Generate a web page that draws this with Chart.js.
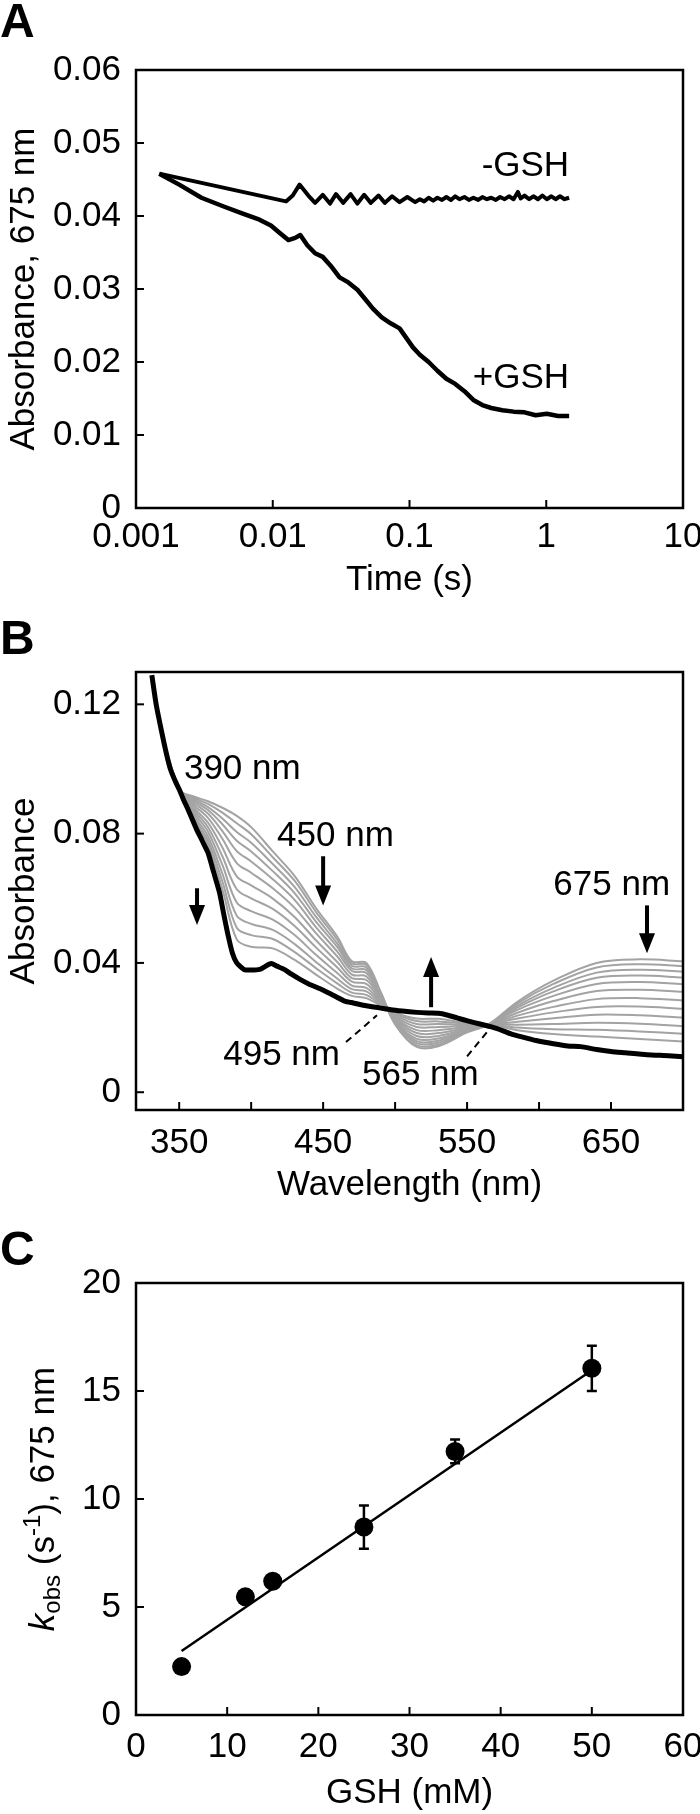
<!DOCTYPE html>
<html><head><meta charset="utf-8">
<script src="https://cdn.jsdelivr.net/npm/chart.js@4.4.1/dist/chart.umd.min.js"></script>
<style>
html,body{margin:0;padding:0;background:#fff;width:700px;height:1814px;overflow:hidden;position:relative;}
canvas{position:absolute;left:0;}
.letter{position:absolute;left:0;font:bold 48px "Liberation Sans",Arial,sans-serif;line-height:48px;color:#000;z-index:2;}
</style></head><body>
<canvas id="cA" style="top:0px" width="700" height="610"></canvas>
<canvas id="cB" style="top:610px" width="700" height="600"></canvas>
<canvas id="cC" style="top:1210px" width="700" height="604"></canvas>
<div class="letter" style="top:-3px">A</div>
<div class="letter" style="top:614px">B</div>
<div class="letter" style="top:1225px">C</div>
<script>
// ---------------- Panel A data ----------------
const A_TIME_MINUS = [0.00148,0.0125,0.0140,0.0157,0.0182,0.0204,0.0232,0.0262,0.0290,0.0327,0.0371,0.0416,0.0466,0.0521,0.0594,0.0660,0.0746,0.0846,0.0964,0.110,0.119,0.128,0.138,0.149,0.160,0.173,0.186,0.201,0.216,0.232,0.252,0.272,0.293,0.318,0.341,0.368,0.396,0.428,0.460,0.496,0.534,0.577,0.620,0.650,0.694,0.75,0.806,0.87,0.936,1.01,1.09,1.17,1.26,1.36,1.47];
const A_ABS_MINUS  = [0.0458,0.0420,0.0428,0.0443,0.0428,0.0418,0.0429,0.0417,0.0430,0.0418,0.0430,0.0417,0.0429,0.0418,0.0428,0.0418,0.0427,0.0419,0.0426,0.0419,0.0423,0.0420,0.0425,0.0421,0.0425,0.0422,0.0426,0.0422,0.0427,0.0423,0.0426,0.0422,0.0425,0.0422,0.0426,0.0423,0.0425,0.0422,0.0426,0.0423,0.0427,0.0423,0.0433,0.0424,0.0428,0.0423,0.0427,0.0423,0.0428,0.0423,0.0427,0.0423,0.0427,0.0423,0.0425];
const A_TIME_PLUS = [0.00148,0.00207,0.00301,0.00438,0.0059,0.0080,0.0097,0.0112,0.0130,0.0146,0.0159,0.0179,0.0204,0.0232,0.0265,0.0308,0.0357,0.0416,0.0475,0.0540,0.0627,0.0728,0.0846,0.0947,0.106,0.119,0.138,0.160,0.186,0.216,0.252,0.293,0.341,0.396,0.478,0.577,0.694,0.836,1.01,1.22,1.47];
const A_ABS_PLUS  = [0.0458,0.0443,0.0425,0.0413,0.0404,0.0395,0.0387,0.0377,0.0367,0.0370,0.0374,0.0360,0.0349,0.0344,0.0332,0.0316,0.0309,0.0299,0.0286,0.0273,0.0261,0.0253,0.0246,0.0233,0.0220,0.0210,0.0200,0.0188,0.0177,0.0170,0.0160,0.0148,0.0141,0.0137,0.0134,0.0132,0.0131,0.0127,0.0129,0.0126,0.0126];
const A_X_TICKS = [0.001,0.01,0.1,1,10];
const A_X_LABELS = ['0.001','0.01','0.1','1','10'];
const A_Y_TICKS = [0,0.01,0.02,0.03,0.04,0.05,0.06];
const A_Y_LABELS = ['0','0.01','0.02','0.03','0.04','0.05','0.06'];
const A_NOTES = [{text:'-GSH',x:1.47,y:0.0468},{text:'+GSH',x:1.47,y:0.0177}];

// ---------------- Panel B data ----------------
const B_WL = [340,350,360,370,380,390,400,415,430,445,460,470,480,490,500,515,530,550,565,585,610,640,670,700];
const B_GREY_1  = [0.107,0.0935,0.0915,0.090,0.088,0.0855,0.082,0.0745,0.067,0.057,0.048,0.0405,0.040,0.031,0.021,0.014,0.0142,0.0185,0.021,0.028,0.0345,0.040,0.0411,0.0405];
const B_GREY_2  = [0.107,0.0935,0.0911,0.0892,0.0865,0.0832,0.0798,0.0727,0.0655,0.0558,0.0471,0.0399,0.0394,0.0308,0.0212,0.0145,0.0147,0.0187,0.021,0.0275,0.0335,0.0386,0.0396,0.039];
const B_GREY_3  = [0.107,0.0935,0.0906,0.0882,0.0847,0.0805,0.0772,0.0706,0.0636,0.0543,0.0459,0.0391,0.0386,0.0305,0.0215,0.0152,0.0153,0.0189,0.021,0.0268,0.0323,0.037,0.0379,0.0373];
const B_GREY_4  = [0.107,0.0935,0.0901,0.0873,0.0829,0.0778,0.0745,0.0684,0.0617,0.0528,0.0448,0.0383,0.0378,0.0302,0.0217,0.0158,0.0159,0.0191,0.021,0.0262,0.0312,0.0354,0.0361,0.0355];
const B_GREY_5  = [0.107,0.0935,0.0895,0.0862,0.0808,0.0746,0.0714,0.0659,0.0596,0.0511,0.0434,0.0375,0.0369,0.0298,0.022,0.0165,0.0166,0.0193,0.021,0.0255,0.0298,0.0335,0.0341,0.0334];
const B_GREY_6  = [0.107,0.0935,0.0888,0.0849,0.0784,0.0709,0.0679,0.0631,0.0571,0.0492,0.0419,0.0364,0.0358,0.0294,0.0224,0.0174,0.0174,0.0196,0.021,0.0246,0.0282,0.0313,0.0317,0.0311];
const B_GREY_7  = [0.107,0.0935,0.088,0.0834,0.0757,0.0668,0.064,0.0599,0.0543,0.047,0.0402,0.0353,0.0347,0.029,0.0228,0.0183,0.0183,0.0199,0.021,0.0237,0.0264,0.0288,0.0291,0.0284];
const B_GREY_8  = [0.107,0.0935,0.0873,0.082,0.073,0.0628,0.060,0.0567,0.0515,0.0448,0.0385,0.0342,0.0335,0.0285,0.0231,0.0192,0.0192,0.0202,0.021,0.0228,0.0247,0.0264,0.0265,0.0258];
const B_GREY_9  = [0.107,0.0935,0.0865,0.0806,0.0703,0.0587,0.056,0.0534,0.0487,0.0425,0.0368,0.033,0.0323,0.0281,0.0235,0.0202,0.0202,0.0206,0.021,0.0218,0.0229,0.024,0.0238,0.0231];
const B_GREY_10 = [0.107,0.0935,0.0857,0.0791,0.0676,0.0546,0.0521,0.0502,0.0459,0.0403,0.0351,0.0319,0.0312,0.0276,0.0239,0.0211,0.0211,0.0209,0.021,0.0209,0.0211,0.0215,0.0212,0.0204];
const B_GREY_11 = [0.107,0.0935,0.085,0.0778,0.0652,0.0509,0.0486,0.0474,0.0434,0.0384,0.0336,0.0308,0.0301,0.0272,0.0243,0.022,0.0219,0.0212,0.021,0.020,0.0195,0.0193,0.0188,0.0181];
const B_GREY_12 = [0.107,0.0935,0.0844,0.0766,0.0628,0.0473,0.045,0.0445,0.041,0.0364,0.032,0.0298,0.0291,0.0268,0.0246,0.0228,0.0227,0.0214,0.021,0.0192,0.018,0.0172,0.0165,0.0157];
const B_FINAL_WL  = [331,334,337.6,341,344,347,350,353,356,359,362,366,370,374,378,381,384,387,390,395,400,406,410,414,418,423,428,434,440,449,457,465,471,477,483,489,497,505,515,523,530,536,543,551,559,567,575,582,590,598,610,620,629,640,650,660,675,690,700];
const B_FINAL_ABS = [0.129,0.120,0.112,0.105,0.0998,0.0965,0.0937,0.0905,0.0876,0.0845,0.0814,0.0778,0.0741,0.068,0.0618,0.055,0.0485,0.043,0.040,0.038,0.0378,0.038,0.039,0.0398,0.039,0.038,0.0365,0.0349,0.0335,0.0318,0.030,0.0282,0.0276,0.027,0.0265,0.0261,0.0255,0.0251,0.0247,0.0245,0.0244,0.0239,0.023,0.022,0.0211,0.0202,0.019,0.0178,0.0169,0.016,0.015,0.0143,0.0141,0.0132,0.0126,0.0122,0.0116,0.0113,0.011];
const B_X_TICKS = [350,400,450,500,550,600,650,700];
const B_X_LABELS = ['350','','450','','550','','650',''];
const B_Y_TICKS = [0,0.04,0.08,0.12];
const B_Y_LABELS = ['0','0.04','0.08','0.12'];
const B_TEXTS = [
  {text:'390 nm',x:353.3,y:0.0999,align:'left'},
  {text:'450 nm',x:418,y:0.0792,align:'left'},
  {text:'675 nm',x:691,y:0.064,align:'right'},
  {text:'495 nm',x:461.7,y:0.0114,align:'right'},
  {text:'565 nm',x:477,y:0.0053,align:'left'}
];
const B_ARROWS = [
  {x:362.4,from:0.0631,to:0.0517},
  {x:450,from:0.073,to:0.0578},
  {x:675,from:0.0578,to:0.043},
  {x:525,from:0.0263,to:0.0418}
];
const B_DASHES = [
  {x1:465.9,y1:0.0155,x2:487.4,y2:0.0238},
  {x1:550,y1:0.0111,x2:563.8,y2:0.0186}
];

// ---------------- Panel C data ----------------
const C_GSH  = [5,12,15,25,35,50];
const C_KOBS = [2.24,5.47,6.19,8.7,12.2,16.05];
const C_ERR  = [0.15,0.3,0.2,1.0,0.55,1.05];
const C_FIT_X = [5,50];
const C_FIT_Y = [2.96,15.96];
const C_X_TICKS = [0,10,20,30,40,50,60];
const C_X_LABELS = ['0','10','20','30','40','50','60'];
const C_Y_TICKS = [0,5,10,15,20];
const C_Y_LABELS = ['0','5','10','15','20'];

// ---------------- common ----------------
const FAMILY = '"Liberation Sans", Arial, sans-serif';
const FS = 35;
const TICK = 8;
Chart.defaults.font.family = FAMILY;
Chart.defaults.color = '#000';

const framePlugin = {
  id:'frame',
  afterDatasetsDraw(chart){
    const {ctx, chartArea:a} = chart;
    ctx.save();
    ctx.strokeStyle = '#000';
    ctx.lineWidth = 2;
    const xs = chart.scales.x, ys = chart.scales.y;
    xs.ticks.forEach(t=>{const p=xs.getPixelForValue(t.value);ctx.beginPath();ctx.moveTo(p,a.bottom);ctx.lineTo(p,a.bottom-TICK);ctx.stroke();});
    ys.ticks.forEach(t=>{const p=ys.getPixelForValue(t.value);ctx.beginPath();ctx.moveTo(a.left,p);ctx.lineTo(a.left+TICK,p);ctx.stroke();});
    ctx.lineWidth = 2.5;
    ctx.strokeRect(a.left,a.top,a.right-a.left,a.bottom-a.top);
    ctx.restore();
  }
};

function xyData(xs, ys){ return xs.map((x,i)=>({x:x, y:ys[i]})); }

function baseOptions(cfg){
  return {
    responsive:false, animation:false, devicePixelRatio:1,
    layout:{padding:{top:cfg.padTop,right:17,left:0,bottom:0}},
    plugins:{legend:{display:false},tooltip:{enabled:false}},
    scales:{
      x:{
        type:cfg.xType, min:cfg.xMin, max:cfg.xMax,
        afterBuildTicks:s=>{s.ticks = cfg.xTicks.map(v=>({value:v}));},
        afterFit:s=>{s.height = cfg.xHeight; s.paddingLeft = 0; s.paddingRight = 0;},
        grid:{display:false,drawTicks:false}, border:{display:false},
        ticks:{font:{size:FS,family:FAMILY},color:'#000',padding:cfg.xLabPad,maxRotation:0,autoSkip:false,
          callback:(v,i)=>cfg.xLabels[i]},
        title:{display:true,text:cfg.xTitle,font:{size:FS,family:FAMILY},color:'#000',padding:{top:0,bottom:cfg.xTitlePad}}
      },
      y:{
        type:'linear', min:cfg.yMin, max:cfg.yMax,
        afterBuildTicks:s=>{s.ticks = cfg.yTicks.map(v=>({value:v}));},
        afterFit:s=>{s.width = 136; s.paddingTop = 0; s.paddingBottom = 0;},
        grid:{display:false,drawTicks:false}, border:{display:false},
        ticks:{font:{size:FS,family:FAMILY},color:'#000',padding:15,autoSkip:false,
          callback:(v,i)=>cfg.yLabels[i]},
        title:{display:!!cfg.yTitle,text:cfg.yTitle||'',font:{size:FS,family:FAMILY},color:'#000',padding:{top:3,bottom:0}}
      }
    }
  };
}

// ---------------- Chart A ----------------
const notesA = {
  id:'notesA',
  afterDatasetsDraw(chart){
    const {ctx} = chart, xs = chart.scales.x, ys = chart.scales.y;
    ctx.save();
    ctx.font = FS+'px '+FAMILY; ctx.fillStyle = '#000';
    ctx.textAlign = 'right'; ctx.textBaseline = 'middle';
    A_NOTES.forEach(n=>ctx.fillText(n.text, xs.getPixelForValue(n.x), ys.getPixelForValue(n.y)));
    ctx.restore();
  }
};
new Chart(document.getElementById('cA'), {
  type:'line',
  data:{datasets:[
    {data:xyData(A_TIME_MINUS,A_ABS_MINUS),borderColor:'#000',borderWidth:4,pointRadius:0,tension:0,borderJoinStyle:'round'},
    {data:xyData(A_TIME_PLUS,A_ABS_PLUS),borderColor:'#000',borderWidth:4.5,pointRadius:0,tension:0,borderJoinStyle:'round'}
  ]},
  options:baseOptions({padTop:70,xType:'logarithmic',xMin:0.001,xMax:10,xTicks:A_X_TICKS,xLabels:A_X_LABELS,
    xHeight:102,xLabPad:8,xTitle:'Time (s)',xTitlePad:9,yMin:0,yMax:0.06,yTicks:A_Y_TICKS,yLabels:A_Y_LABELS,
    yTitle:'Absorbance, 675 nm'}),
  plugins:[framePlugin,notesA]
});

// ---------------- Chart B ----------------
const notesB = {
  id:'notesB',
  afterDatasetsDraw(chart){
    const {ctx} = chart, xs = chart.scales.x, ys = chart.scales.y;
    const px = v=>xs.getPixelForValue(v), py = v=>ys.getPixelForValue(v);
    ctx.save();
    ctx.fillStyle = '#000'; ctx.strokeStyle = '#000';
    ctx.font = FS+'px '+FAMILY; ctx.textBaseline = 'middle';
    B_TEXTS.forEach(t=>{ctx.textAlign = t.align; ctx.fillText(t.text, px(t.x), py(t.y));});
    B_ARROWS.forEach(a=>{
      const x = px(a.x), y1 = py(a.from), y2 = py(a.to);
      const dir = y2 > y1 ? 1 : -1;
      const headL = 20, headW = 8;
      ctx.lineWidth = 4; ctx.lineCap = 'butt';
      ctx.beginPath(); ctx.moveTo(x,y1); ctx.lineTo(x,y2-dir*headL+dir*2); ctx.stroke();
      ctx.beginPath(); ctx.moveTo(x,y2); ctx.lineTo(x-headW,y2-dir*headL); ctx.lineTo(x+headW,y2-dir*headL); ctx.closePath(); ctx.fill();
    });
    ctx.lineWidth = 2; ctx.setLineDash([7,5]);
    B_DASHES.forEach(d=>{ctx.beginPath();ctx.moveTo(px(d.x1),py(d.y1));ctx.lineTo(px(d.x2),py(d.y2));ctx.stroke();});
    ctx.restore();
  }
};
const greys = [B_GREY_1,B_GREY_2,B_GREY_3,B_GREY_4,B_GREY_5,B_GREY_6,B_GREY_7,B_GREY_8,B_GREY_9,B_GREY_10,B_GREY_11,B_GREY_12];
const bSets = [{data:xyData(B_FINAL_WL,B_FINAL_ABS),borderColor:'#000',borderWidth:5,pointRadius:0,tension:0.2,borderJoinStyle:'round'}];
greys.forEach(g=>bSets.push({data:xyData(B_WL,g),borderColor:'#a3a3a3',borderWidth:2,pointRadius:0,tension:0.35}));
new Chart(document.getElementById('cB'), {
  type:'line',
  data:{datasets:bSets},
  options:baseOptions({padTop:62,xType:'linear',xMin:320,xMax:700,xTicks:B_X_TICKS,xLabels:B_X_LABELS,
    xHeight:100,xLabPad:12,xTitle:'Wavelength (nm)',xTitlePad:4,yMin:-0.0055,yMax:0.13,yTicks:B_Y_TICKS,yLabels:B_Y_LABELS,
    yTitle:'Absorbance'}),
  plugins:[framePlugin,notesB]
});

// ---------------- Chart C ----------------
const notesC = {
  id:'notesC',
  afterDatasetsDraw(chart){
    const {ctx, chartArea:a} = chart, xs = chart.scales.x, ys = chart.scales.y;
    ctx.save();
    ctx.strokeStyle = '#000'; ctx.lineWidth = 2.5;
    C_GSH.forEach((g,i)=>{
      const x = xs.getPixelForValue(g), yt = ys.getPixelForValue(C_KOBS[i]+C_ERR[i]), yb = ys.getPixelForValue(C_KOBS[i]-C_ERR[i]);
      ctx.beginPath(); ctx.moveTo(x,yt); ctx.lineTo(x,yb);
      ctx.moveTo(x-5,yt); ctx.lineTo(x+5,yt); ctx.moveTo(x-5,yb); ctx.lineTo(x+5,yb); ctx.stroke();
    });
    // rotated y-axis title with subscript and superscript
    const parts = [
      {t:'k', f:'italic '+FS+'px '+FAMILY, dy:0},
      {t:'obs', f:'24px '+FAMILY, dy:9},
      {t:' (s', f:FS+'px '+FAMILY, dy:0},
      {t:'-1', f:'24px '+FAMILY, dy:-11},
      {t:'), 675 nm', f:FS+'px '+FAMILY, dy:0}
    ];
    let w = 0;
    parts.forEach(p=>{ctx.font = p.f; p.w = ctx.measureText(p.t).width; w += p.w;});
    ctx.translate(44, (a.top+a.bottom)/2);
    ctx.rotate(-Math.PI/2);
    ctx.fillStyle = '#000'; ctx.textBaseline = 'middle'; ctx.textAlign = 'left';
    let cx = -w/2;
    parts.forEach(p=>{ctx.font = p.f; ctx.fillText(p.t, cx, p.dy); cx += p.w;});
    ctx.restore();
  }
};
new Chart(document.getElementById('cC'), {
  type:'line',
  data:{datasets:[
    {data:xyData(C_GSH,C_KOBS),showLine:false,pointRadius:9.5,pointBackgroundColor:'#000',pointBorderColor:'#000',pointBorderWidth:0},
    {data:xyData(C_FIT_X,C_FIT_Y),borderColor:'#000',borderWidth:2.5,pointRadius:0,tension:0}
  ]},
  options:baseOptions({padTop:73,xType:'linear',xMin:0,xMax:60,xTicks:C_X_TICKS,xLabels:C_X_LABELS,
    xHeight:99,xLabPad:11,xTitle:'GSH (mM)',xTitlePad:0,yMin:0,yMax:20,yTicks:C_Y_TICKS,yLabels:C_Y_LABELS,
    yTitle:''}),
  plugins:[framePlugin,notesC]
});
</script>
</body></html>
